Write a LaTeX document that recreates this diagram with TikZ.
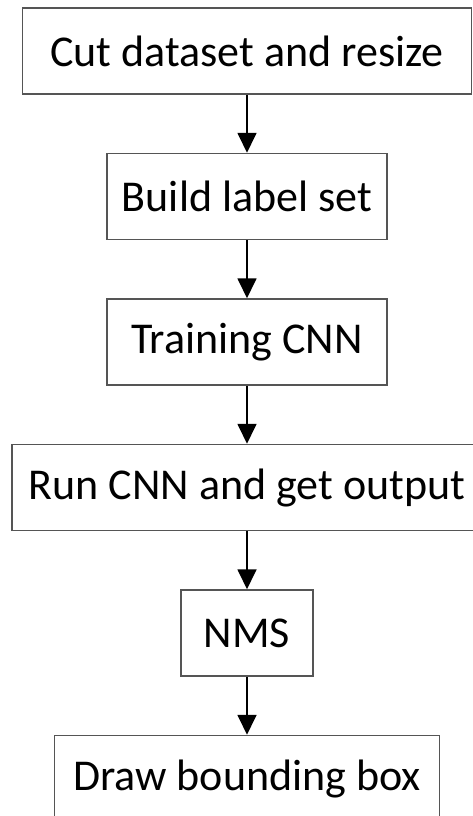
\documentclass[tikz,border=0pt]{standalone}
\usepackage{fontspec}
\setmainfont{Carlito}
\usepackage{tikz}
\usetikzlibrary{positioning, arrows.meta}
\definecolor{boxgray}{RGB}{85, 85, 85}
\tikzset{
    stepbox/.style={
        draw=boxgray, line width=1.5pt, fill=white,
        minimum height=86pt, inner sep=0pt,
        font=\fontsize{44}{50}\selectfont
    },
    flowarrow/.style={
        -{Triangle[length=20pt, width=19pt]}, line width=1.8pt, black
    }
}

\begin{document}
\begin{tikzpicture}
        % --- KHUNG ẢNH ---
        \useasboundingbox (0pt,0pt) rectangle (472pt,-816pt);

        % ==========================================
        % CÁC BƯỚC
        % ==========================================
        \node[stepbox, minimum width=449pt] (cut) at (247pt,-51pt) {Cut dataset and resize};
        \node[stepbox, minimum width=280pt, below=58pt of cut] (label) {Build label set};
        \node[stepbox, minimum width=280pt, below=58pt of label] (train) {Training CNN};
        \node[stepbox, minimum width=470pt, below=58pt of train] (run) {Run CNN and get output};
        \node[stepbox, minimum width=132pt, below=58pt of run] (nms) {NMS};
        \node[stepbox, minimum width=385pt, below=58pt of nms] (bbox) {Draw bounding box};

        % ==========================================
        % MŨI TÊN
        % ==========================================
        \draw[flowarrow] (cut) -- (label);
        \draw[flowarrow] (label) -- (train);
        \draw[flowarrow] (train) -- (run);
        \draw[flowarrow] (run) -- (nms);
        \draw[flowarrow] (nms) -- (bbox);

    \end{tikzpicture}
\end{document}
